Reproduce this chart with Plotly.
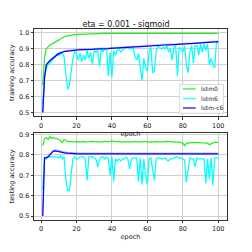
import plotly.graph_objects as go
from plotly.subplots import make_subplots

epochs = list(range(1, 101))

train_lstm0 = [0.67, 0.85, 0.90, 0.915, 0.925, 0.93, 0.935, 0.94, 0.948, 0.955,
               0.962, 0.97, 0.975, 0.98, 0.983, 0.985, 0.987, 0.988, 0.989, 0.99,
               0.991, 0.992, 0.992, 0.993, 0.993, 0.994, 0.994, 0.995, 0.995, 0.995,
               0.996, 0.996, 0.996, 0.996, 0.997, 0.997, 0.997, 0.997, 0.997, 0.997,
               0.998, 0.998, 0.998, 0.998, 0.998, 0.998, 0.998, 0.998, 0.998, 0.998,
               0.998, 0.998, 0.998, 0.998, 0.998, 0.998, 0.998, 0.998, 0.998, 0.998,
               0.998, 0.998, 0.998, 0.998, 0.998, 0.998, 0.998, 0.998, 0.998, 0.998,
               0.998, 0.998, 0.998, 0.998, 0.998, 0.998, 0.998, 0.998, 0.998, 0.998,
               0.998, 0.998, 0.998, 0.998, 0.998, 0.998, 0.998, 0.998, 0.998, 0.998,
               0.998, 0.998, 0.998, 0.997, 0.995, 0.997, 0.998, 0.998, 0.998, 0.998]

train_lstm6 = [0.55, 0.72, 0.78, 0.80, 0.81, 0.82, 0.835, 0.85, 0.87, 0.86,
               0.87, 0.875, 0.85, 0.75, 0.645, 0.67, 0.75, 0.84, 0.88, 0.87,
               0.83, 0.87, 0.82, 0.86, 0.83, 0.89, 0.84, 0.88, 0.80, 0.89,
               0.88, 0.89, 0.79, 0.90, 0.88, 0.90, 0.90, 0.73, 0.88, 0.72,
               0.89, 0.86, 0.89, 0.90, 0.88, 0.89, 0.90, 0.91, 0.91, 0.90,
               0.90, 0.91, 0.85, 0.83, 0.87, 0.78, 0.70, 0.84, 0.78, 0.76,
               0.88, 0.91, 0.75, 0.76, 0.88, 0.92, 0.91, 0.90, 0.91, 0.90,
               0.92, 0.88, 0.90, 0.83, 0.91, 0.92, 0.73, 0.91, 0.90, 0.88,
               0.92, 0.80, 0.75, 0.88, 0.92, 0.81, 0.92, 0.92, 0.86, 0.93,
               0.88, 0.93, 0.89, 0.93, 0.80, 0.84, 0.80, 0.78, 0.94, 0.94]

train_lstmc6 = [0.50, 0.72, 0.80, 0.815, 0.825, 0.835, 0.845, 0.855, 0.865, 0.87,
                0.875, 0.88, 0.882, 0.885, 0.886, 0.888, 0.889, 0.890, 0.891, 0.892,
                0.893, 0.893, 0.894, 0.894, 0.895, 0.895, 0.896, 0.896, 0.897, 0.898,
                0.898, 0.899, 0.899, 0.900, 0.900, 0.901, 0.902, 0.902, 0.903, 0.904,
                0.904, 0.905, 0.905, 0.906, 0.907, 0.907, 0.908, 0.908, 0.909, 0.910,
                0.910, 0.911, 0.912, 0.912, 0.913, 0.914, 0.915, 0.915, 0.916, 0.917,
                0.918, 0.918, 0.919, 0.920, 0.921, 0.921, 0.922, 0.923, 0.924, 0.925,
                0.925, 0.926, 0.926, 0.927, 0.927, 0.928, 0.928, 0.929, 0.929, 0.930,
                0.931, 0.931, 0.932, 0.933, 0.933, 0.934, 0.935, 0.935, 0.936, 0.938,
                0.938, 0.939, 0.940, 0.940, 0.941, 0.942, 0.943, 0.943, 0.944, 0.945]

train_shadow = [v + 0.004 for v in train_lstmc6]

test_lstm0 = [0.845, 0.88, 0.885, 0.875, 0.89, 0.88, 0.885, 0.88, 0.88, 0.875,
              0.87, 0.86, 0.875, 0.87, 0.865, 0.866, 0.867, 0.865, 0.864, 0.866,
              0.865, 0.862, 0.864, 0.866, 0.863, 0.862, 0.864, 0.866, 0.865, 0.864,
              0.866, 0.865, 0.863, 0.862, 0.865, 0.866, 0.866, 0.864, 0.866, 0.868,
              0.866, 0.864, 0.865, 0.866, 0.864, 0.862, 0.864, 0.865, 0.866, 0.864,
              0.862, 0.865, 0.866, 0.864, 0.863, 0.862, 0.864, 0.866, 0.864, 0.862,
              0.863, 0.864, 0.862, 0.864, 0.866, 0.864, 0.863, 0.865, 0.864, 0.866,
              0.866, 0.864, 0.866, 0.867, 0.864, 0.862, 0.863, 0.862, 0.860, 0.858,
              0.845, 0.855, 0.858, 0.86, 0.86, 0.861, 0.86, 0.861, 0.86, 0.86,
              0.859, 0.858, 0.858, 0.857, 0.85, 0.856, 0.858, 0.862, 0.862, 0.86]

test_lstm6 = [0.63, 0.78, 0.78, 0.79, 0.79, 0.79, 0.79, 0.79, 0.79, 0.785,
              0.795, 0.78, 0.79, 0.68, 0.625, 0.625, 0.70, 0.78, 0.79, 0.78,
              0.78, 0.79, 0.79, 0.79, 0.78, 0.675, 0.79, 0.79, 0.79, 0.785,
              0.78, 0.74, 0.78, 0.79, 0.79, 0.78, 0.79, 0.78, 0.70, 0.79,
              0.67, 0.78, 0.77, 0.78, 0.77, 0.78, 0.78, 0.79, 0.78, 0.73,
              0.78, 0.785, 0.785, 0.785, 0.67, 0.785, 0.655, 0.78, 0.70, 0.655,
              0.78, 0.785, 0.73, 0.675, 0.78, 0.785, 0.785, 0.78, 0.78, 0.785,
              0.775, 0.77, 0.78, 0.78, 0.785, 0.79, 0.79, 0.785, 0.785, 0.78,
              0.775, 0.665, 0.73, 0.785, 0.78, 0.78, 0.74, 0.785, 0.78, 0.78,
              0.78, 0.78, 0.66, 0.78, 0.68, 0.785, 0.65, 0.785, 0.785, 0.785]

test_lstmc6 = [0.50, 0.785, 0.785, 0.79, 0.80, 0.81, 0.818, 0.82, 0.818, 0.815,
               0.813, 0.81, 0.81, 0.809, 0.808, 0.807, 0.806, 0.805, 0.805, 0.805,
               0.805, 0.805, 0.805, 0.805, 0.805, 0.805, 0.805, 0.805, 0.805, 0.805,
               0.805, 0.805, 0.805, 0.805, 0.805, 0.805, 0.805, 0.805, 0.805, 0.805,
               0.805, 0.805, 0.805, 0.805, 0.805, 0.805, 0.805, 0.805, 0.805, 0.805,
               0.805, 0.805, 0.805, 0.805, 0.805, 0.805, 0.805, 0.805, 0.805, 0.805,
               0.805, 0.805, 0.805, 0.805, 0.805, 0.805, 0.805, 0.805, 0.805, 0.805,
               0.805, 0.805, 0.805, 0.805, 0.805, 0.805, 0.805, 0.805, 0.805, 0.803,
               0.805, 0.805, 0.805, 0.805, 0.805, 0.805, 0.805, 0.805, 0.805, 0.805,
               0.805, 0.805, 0.805, 0.805, 0.805, 0.805, 0.805, 0.805, 0.805, 0.805]

test_shadow = [v + 0.004 for v in test_lstmc6]

x_ticks = [0, 20, 40, 60, 80, 100]
top_yticks = [0.5, 0.6, 0.7, 0.8, 0.9, 1.0]
bot_yticks = [0.5, 0.6, 0.7, 0.8, 0.9]

series_names = ["lstm0", "lstm6", "lstm-c6"]
series_colors = ["#22ee22", "#00ffff", "#0000ff"]
legend_colors = ["rgba(34,238,34,0.75)", "rgba(0,255,255,0.75)", "rgba(0,0,255,0.75)"]
shadow_color = "rgba(140,140,255,0.6)"

fig = make_subplots(rows=2, cols=1, vertical_spacing=0.084)

fnt = dict(family="DejaVu Sans", size=6.5, color="#222")

def add(row, ys, color, name, width=1.25):
    fig.add_trace(go.Scatter(x=epochs, y=ys, mode="lines", name=name,
                             line=dict(color=color, width=width),
                             showlegend=False), row=row, col=1)

add(1, train_lstm0, series_colors[0], series_names[0])
add(1, train_lstm6, series_colors[1], series_names[1])
add(1, train_shadow, shadow_color, "lstm-c6 (shade)")
add(1, train_lstmc6, series_colors[2], series_names[2])
add(2, test_lstm0, series_colors[0], series_names[0])
add(2, test_lstm6, series_colors[1], series_names[1])
add(2, test_shadow, shadow_color, "lstm-c6 (shade)")
add(2, test_lstmc6, series_colors[2], series_names[2])

axis_common = dict(showline=True, linecolor="#333", linewidth=0.8, mirror=True,
                   ticks="outside", ticklen=2.5, tickwidth=0.8, tickcolor="#333",
                   showgrid=True, gridcolor="#d0d0d0", gridwidth=0.7,
                   zeroline=False, tickfont=fnt)

fig.update_xaxes(**axis_common, range=[-3.95, 104.95], tickvals=x_ticks)
fig.update_xaxes(title=dict(text="epoch", font=fnt, standoff=2), row=1, col=1)
fig.update_xaxes(title=dict(text="epoch", font=fnt, standoff=2), row=2, col=1)
fig.update_yaxes(**axis_common)
fig.update_yaxes(range=[0.475, 1.025], tickvals=top_yticks, tickformat=".1f",
                 title=dict(text="training accuracy", font=fnt, standoff=3), row=1, col=1)
fig.update_yaxes(range=[0.4805, 0.9095], tickvals=bot_yticks, tickformat=".1f",
                 title=dict(text="testing accuracy", font=fnt, standoff=3), row=2, col=1)

# custom compact legend in the top panel (lower right)
fig.add_shape(type="rect", xref="x domain", yref="y domain",
              x0=0.755, x1=0.982, y0=0.035, y1=0.365,
              fillcolor="rgba(255,255,255,0.85)", line=dict(color="#cccccc", width=0.7),
              layer="above")
legend_y = [0.315, 0.205, 0.097]
for name, col, ly in zip(series_names, legend_colors, legend_y):
    fig.add_shape(type="line", xref="x domain", yref="y domain",
                  x0=0.772, x1=0.838, y0=ly, y1=ly,
                  line=dict(color=col, width=1.6), layer="above")
    fig.add_annotation(text=name, xref="x domain", yref="y domain",
                       x=0.855, y=ly, xanchor="left", yanchor="middle",
                       showarrow=False,
                       font=dict(family="DejaVu Sans", size=6, color="#222"))

fig.update_layout(
    width=252, height=252,
    margin=dict(l=34, r=25, t=29, b=32),
    paper_bgcolor="white", plot_bgcolor="white",
    title=dict(text="eta = 0.001 - sigmoid", x=0.5, xanchor="center",
               y=0.905, yanchor="middle",
               font=dict(family="DejaVu Sans", size=8, color="#111")),
    showlegend=False,
)

fig.write_html("out.html", config={"displayModeBar": False},
               post_script="document.body.style.margin='0';document.body.style.padding='0';")
